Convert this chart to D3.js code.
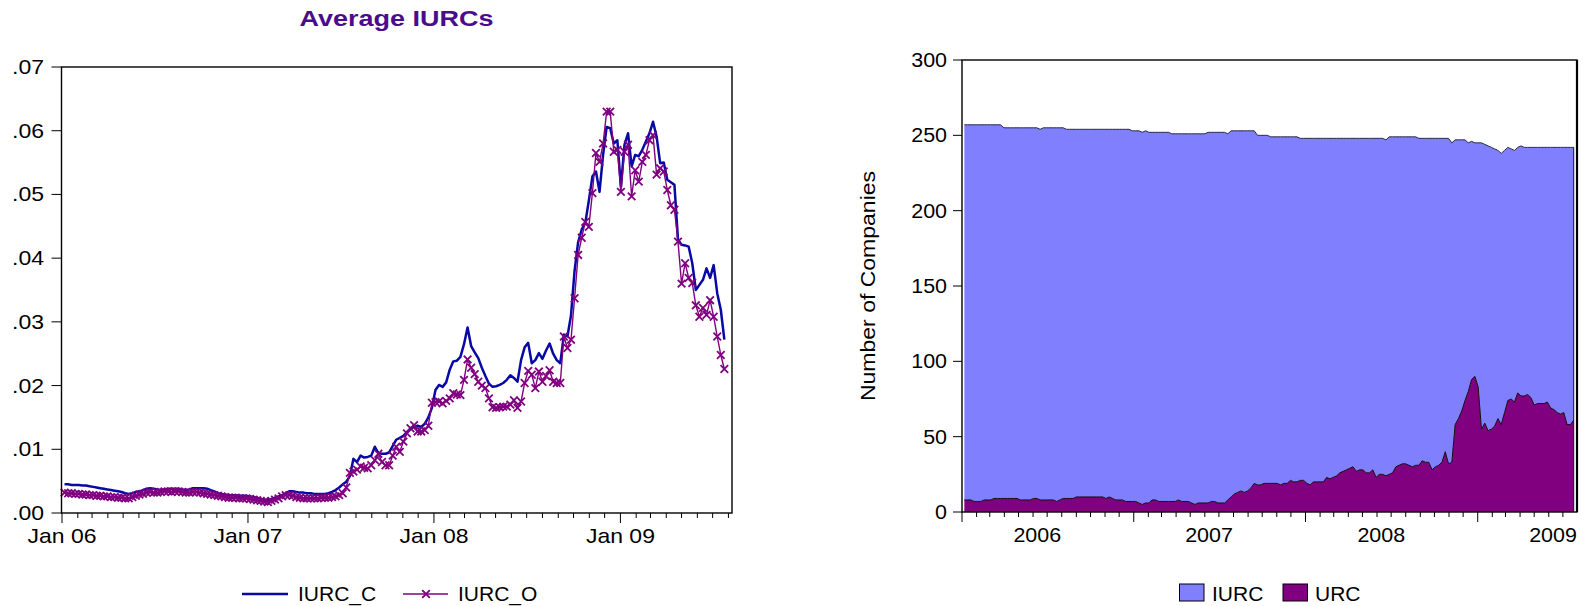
<!DOCTYPE html>
<html><head><meta charset="utf-8">
<script src="https://cdn.jsdelivr.net/npm/d3@7"></script>
<style>html,body{margin:0;padding:0;background:#fff;} svg{display:block;} text{font-family:"Liberation Sans",Arial,sans-serif;}</style>
</head><body>
<svg id="chart" width="1583" height="606"></svg>
<script>
// ---------- DATA ----------
const firstWeek = "2006-01-06";   // weekly observations start
const IURC_C = [
.0045,.0045,.0044,.0044,.0044,.0043,.0043,.0042,.0041,.0040,
.0039,.0038,.0037,.0036,.0035,.0034,.0033,.0031,.0030,.0031,
.0033,.0034,.0036,.0038,.0039,.0038,.0037,.0036,.0037,.0038,
.0038,.0038,.0038,.0037,.0036,.0037,.0039,.0039,.0039,.0039,
.0038,.0036,.0034,.0031,.0030,.0029,.0028,.0028,.0028,.0027,
.0027,.0027,.0026,.0025,.0024,.0022,.0021,.0020,.0022,.0024,
.0026,.0028,.0031,.0034,.0034,.0033,.0032,.0032,.0031,.0031,
.0030,.0030,.0030,.0030,.0031,.0033,.0036,.0040,.0045,.0049,
.0058,.0085,.0080,.0090,.0087,.0088,.0090,.0104,.0094,.0093,
.0093,.0095,.0105,.0115,.0118,.0121,.0127,.0133,.0135,.0137,
.0135,.0140,.0150,.0165,.0193,.0201,.0198,.0205,.0225,.0238,
.0239,.0245,.0265,.0291,.0262,.0252,.0243,.0228,.0215,.0203,
.0198,.0199,.0201,.0204,.0209,.0216,.0212,.0206,.0240,.0260,
.0267,.0235,.0240,.0251,.0242,.0255,.0266,.0250,.0240,.0235,
.0280,.0277,.0310,.0380,.0425,.0445,.0455,.0490,.0528,.0536,
.0504,.0562,.0606,.0604,.0580,.0585,.0512,.0578,.0596,.0544,
.0562,.0560,.0570,.0583,.0596,.0614,.0591,.0549,.0550,.0523,
.0519,.0515,.0429,.0421,.0420,.0418,.0392,.0350,.0358,.0366,
.0384,.0369,.0389,.0345,.0319,.0272];
const IURC_O = [
.0032,.0031,.0031,.0030,.0030,.0029,.0029,.0028,.0028,.0027,
.0027,.0026,.0026,.0025,.0025,.0024,.0024,.0023,.0023,.0025,
.0027,.0029,.0030,.0032,.0033,.0032,.0032,.0033,.0034,.0034,
.0033,.0034,.0034,.0033,.0032,.0032,.0033,.0033,.0032,.0031,
.0030,.0029,.0028,.0027,.0026,.0025,.0024,.0024,.0024,.0023,
.0023,.0023,.0022,.0021,.0020,.0019,.0018,.0017,.0019,.0021,
.0023,.0026,.0028,.0028,.0027,.0025,.0024,.0023,.0023,.0023,
.0023,.0023,.0024,.0024,.0024,.0025,.0026,.0028,.0031,.0040,
.0063,.0065,.0068,.0073,.0071,.0070,.0075,.0083,.0093,.0080,
.0075,.0075,.0090,.0104,.0096,.0112,.0125,.0133,.0138,.0128,
.0128,.0130,.0137,.0173,.0174,.0175,.0172,.0176,.0180,.0188,
.0186,.0185,.0209,.0241,.0228,.0218,.0206,.0200,.0196,.0180,
.0166,.0165,.0166,.0167,.0167,.0170,.0177,.0165,.0175,.0204,
.0223,.0217,.0196,.0222,.0206,.0215,.0224,.0206,.0204,.0204,
.0277,.0259,.0272,.0337,.0405,.0432,.0457,.0449,.0502,.0565,
.0551,.0580,.0630,.0630,.0567,.0570,.0504,.0567,.0578,.0497,
.0538,.0520,.0551,.0562,.0585,.0593,.0531,.0541,.0536,.0507,
.0483,.0476,.0426,.0360,.0392,.0369,.0361,.0326,.0308,.0322,
.0311,.0334,.0308,.0277,.0248,.0226];
const URC = [
8,8,8,7,7,7,8,8,8,9,
9,9,9,9,9,9,9,8,8,8,
8,9,9,8,8,8,8,8,7,8,
9,9,9,9,10,10,10,10,10,10,
10,10,10,9,10,9,8,8,8,7,
7,7,7,6,5,6,6,8,8,7,
7,7,7,7,7,8,7,7,7,6,
5,6,6,6,6,7,7,6,6,6,
8,10,12,13,14,13,14,16,19,18,
18,19,19,19,19,19,18,19,19,21,
20,20,21,21,19,18,20,20,20,20,
23,22,23,24,26,27,28,29,30,27,
28,28,26,26,28,23,25,25,24,25,
26,30,31,32,32,31,30,31,31,34,
33,33,28,30,31,33,40,32,33,58,
62,67,74,80,88,90,83,55,59,54,
55,57,62,58,66,74,75,73,79,77,
77,78,76,71,72,72,72,73,69,68,
66,65,66,58,58,61];
const IURC = [
249,249,249,250,250,250,249,249,249,248,
248,248,246,246,246,246,246,247,247,247,
247,246,246,246,247,247,247,247,248,247,
246,245,245,245,244,244,244,244,244,244,
244,244,244,245,244,245,246,246,246,247,
247,246,246,247,247,247,246,244,244,245,
245,245,245,244,244,243,244,244,244,245,
246,245,245,245,246,245,245,246,246,246,
243,243,241,240,239,240,239,237,234,232,
232,231,231,230,230,230,231,230,230,228,
229,229,227,227,229,230,228,228,228,228,
225,226,225,224,222,221,220,219,218,221,
220,220,222,222,220,225,223,223,223,224,
223,219,218,217,217,218,219,218,217,214,
215,215,220,218,217,215,208,216,212,189,
185,180,173,165,158,155,162,190,185,189,
187,184,178,180,174,168,166,167,163,166,
165,164,166,171,170,170,170,169,173,174,
176,177,176,184,184,181];

const leftYTicks = [0,.01,.02,.03,.04,.05,.06,.07];
const leftYLabels = [".00",".01",".02",".03",".04",".05",".06",".07"];
const leftXLabelYears = [2006,2007,2008,2009];
const leftXLabels = ["Jan 06","Jan 07","Jan 08","Jan 09"];
const rightYTicks = [0,50,100,150,200,250,300];
const rightXLabels = ["2006","2007","2008","2009"];
const seriesLeft = ["IURC_C","IURC_O"];
const seriesRight = ["IURC","URC"];

// ---------- SETUP ----------
const svg = d3.select("#chart");
function label(g, x, y, s, anchor, opts={}) {
  const t = g.append("text")
    .attr("transform", `translate(${x},${y})` + (opts.rotate ? ` rotate(${opts.rotate})` : "") + ` scale(${opts.sx||1.15},1)`)
    .attr("text-anchor", anchor)
    .attr("font-size", opts.size || 20)
    .attr("fill", opts.fill || "#000")
    .text(s);
  if (opts.bold) t.attr("font-weight", "bold");
  return t;
}
const legendOpt = {size: 20, sx: 1.05};
const rightOpt = {size: 19.5, sx: 1.1};
const start = d3.timeParse("%Y-%m-%d")(firstWeek);
const dates = IURC_C.map((_, i) => d3.timeDay.offset(start, 7 * i));

// ---------- LEFT CHART ----------
const L = svg.append("g");
const xL = d3.scaleTime().domain([new Date(2006,0,1), new Date(2009,7,8)]).range([62, 732]);
const yL = d3.scaleLinear().domain([0, 0.07]).range([513, 67]);

label(L, 396.5, 26, "Average IURCs", "middle", {size:22.5, bold:true, fill:"#4B0C8C", sx:1.2});

leftYTicks.forEach((v, i) => {
  L.append("line").attr("x1", 51.5).attr("x2", 61.5).attr("y1", yL(v)).attr("y2", yL(v))
    .attr("stroke", "#000").attr("stroke-width", 1);
  label(L, 44, yL(v) + 7, leftYLabels[i], "end");
});
d3.timeMonth.range(new Date(2006,0,1), new Date(2009,7,9)).forEach(d => {
  const major = d.getMonth() === 0;
  L.append("line").attr("x1", xL(d)).attr("x2", xL(d)).attr("y1", 513).attr("y2", major ? 523 : 518)
    .attr("stroke", "#000").attr("stroke-width", 1);
});
leftXLabelYears.forEach((yr, i) => label(L, xL(new Date(yr,0,1)), 543, leftXLabels[i], "middle"));

const lineC = d3.line().x((d,i) => xL(dates[i])).y(d => yL(d));
L.append("path").datum(IURC_C).attr("d", lineC).attr("fill", "none")
  .attr("stroke", "#0808A4").attr("stroke-width", 2.5).attr("stroke-linejoin", "round");
L.append("path").datum(IURC_O).attr("d", lineC).attr("fill", "none")
  .attr("stroke", "#800080").attr("stroke-width", 1.4).attr("stroke-linejoin", "round");
const xMark = "M-3.8,-3.8L3.8,3.8M-3.8,3.8L3.8,-3.8";
L.append("g").selectAll("path").data(IURC_O).join("path")
  .attr("transform", (d,i) => `translate(${xL(dates[i])},${yL(d)})`)
  .attr("d", xMark).attr("stroke", "#800080").attr("stroke-width", 1.8).attr("fill", "none");

L.append("rect").attr("x", 61.5).attr("y", 67).attr("width", 732 - 61.5).attr("height", 513 - 67)
  .attr("fill", "none").attr("stroke", "#000").attr("stroke-width", 1.4);

// legend left
L.append("line").attr("x1", 242).attr("x2", 288).attr("y1", 594).attr("y2", 594)
  .attr("stroke", "#0808A4").attr("stroke-width", 2.5);
label(L, 298, 601, seriesLeft[0], "start", legendOpt);
L.append("line").attr("x1", 403).attr("x2", 448).attr("y1", 594).attr("y2", 594)
  .attr("stroke", "#800080").attr("stroke-width", 1.4);
L.append("path").attr("transform", "translate(426,594)").attr("d", xMark)
  .attr("stroke", "#800080").attr("stroke-width", 1.8);
label(L, 458, 601, seriesLeft[1], "start", legendOpt);

// ---------- RIGHT CHART ----------
const R = svg.append("g");
const xR = d3.scaleTime().domain([new Date(2006,0,1), new Date(2009,6,31)]).range([962, 1577]);
const yR = d3.scaleLinear().domain([0, 300]).range([512, 60]);

const rows = dates.map((d, i) => ({date: d, URC: URC[i], IURC: IURC[i]}));
const stack = d3.stack().keys(["URC", "IURC"])(rows);
const area = d3.area().x(d => xR(d.data.date)).y0(d => yR(d[0])).y1(d => yR(d[1]));
const fills = {URC: "#800080", IURC: "#8080FF"};
[stack[1], stack[0]].forEach(layer => {
  R.append("path").datum(layer).attr("d", area).attr("fill", fills[layer.key]).attr("stroke", "none");
});
const topLine = d3.line().x(d => xR(d.data.date)).y(d => yR(d[1]));
R.append("path").datum(stack[1]).attr("d", topLine).attr("fill", "none").attr("stroke", "#2a2a44").attr("stroke-width", 1);
R.append("path").datum(stack[0]).attr("d", topLine).attr("fill", "none").attr("stroke", "#111").attr("stroke-width", 1);
const lastD = dates[dates.length - 1];
R.append("line").attr("x1", xR(lastD)).attr("x2", xR(lastD))
  .attr("y1", yR(stack[1][stack[1].length-1][1])).attr("y2", 512)
  .attr("stroke", "#111").attr("stroke-width", 1);

rightYTicks.forEach(v => {
  R.append("line").attr("x1", 953).attr("x2", 962).attr("y1", yR(v)).attr("y2", yR(v))
    .attr("stroke", "#000").attr("stroke-width", 1);
  label(R, 947, yR(v) + 7, String(v), "end", rightOpt);
});
d3.timeMonth.range(new Date(2006,0,1), new Date(2009,6,31)).forEach(d => {
  const major = d.getMonth() === 0;
  R.append("line").attr("x1", xR(d)).attr("x2", xR(d)).attr("y1", 512).attr("y2", major ? 522 : 517)
    .attr("stroke", "#000").attr("stroke-width", 1);
});
rightXLabels.forEach(s => label(R, xR(new Date(+s, 5, 10)), 542, s, "middle", rightOpt));
label(R, 875, 286, "Number of Companies", "middle", {rotate: -90});

R.append("rect").attr("x", 962).attr("y", 60).attr("width", 1577 - 962).attr("height", 512 - 60)
  .attr("fill", "none").attr("stroke", "#000").attr("stroke-width", 1.4);
R.append("line").attr("x1", 1577).attr("x2", 1577).attr("y1", 60).attr("y2", 512)
  .attr("stroke", "#000").attr("stroke-width", 2.2);

// legend right
R.append("rect").attr("x", 1179.5).attr("y", 584).attr("width", 24.5).attr("height", 17)
  .attr("fill", fills.IURC).attr("stroke", "#000").attr("stroke-width", 1);
label(R, 1212, 601, seriesRight[0], "start", legendOpt);
R.append("rect").attr("x", 1283).attr("y", 584).attr("width", 24.5).attr("height", 17)
  .attr("fill", fills.URC).attr("stroke", "#000").attr("stroke-width", 1);
label(R, 1315, 601, seriesRight[1], "start", legendOpt);
</script>
</body></html>
